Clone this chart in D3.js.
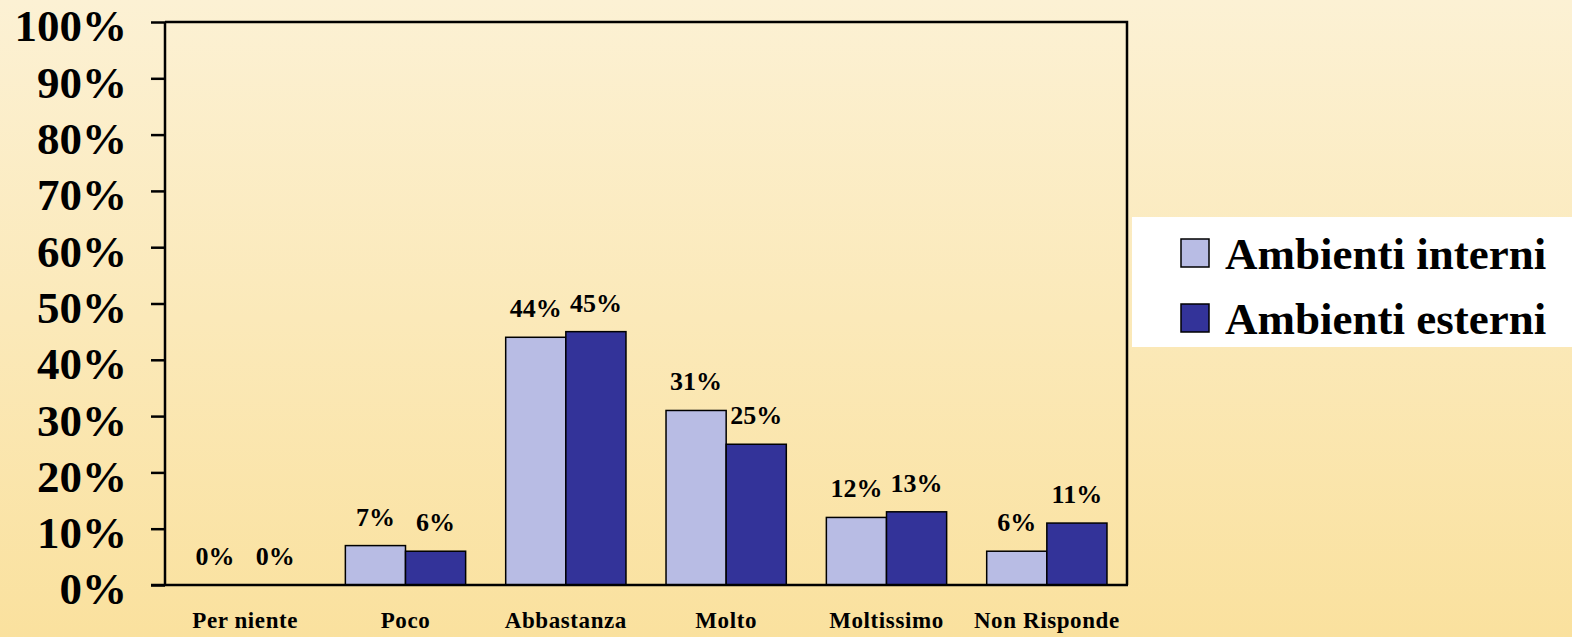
<!DOCTYPE html>
<html>
<head>
<meta charset="utf-8">
<script src="https://cdn.jsdelivr.net/npm/d3@7"></script>
<style>
body { margin: 0; padding: 0; overflow: hidden; }
svg { display: block; font-family: "Liberation Serif", "Times New Roman", serif; font-weight: bold; }
</style>
</head>
<body>
<svg id="chart" width="1572" height="637"></svg>
<script>
// data
var categories = ["Per niente", "Poco", "Abbastanza", "Molto", "Moltissimo", "Non Risponde"];
var seriesNames = ["Ambienti interni", "Ambienti esterni"];
var interni = [0, 7, 44, 31, 12, 6];
var esterni = [0, 6, 45, 25, 13, 11];
var yTicks = [0, 10, 20, 30, 40, 50, 60, 70, 80, 90, 100];
var colors = ["#B8BCE4", "#333399"];

var svg = d3.select("#chart");

// background gradient
var defs = svg.append("defs");
var grad = defs.append("linearGradient")
  .attr("id", "bg")
  .attr("x1", 0).attr("y1", 0).attr("x2", 0).attr("y2", 1);
grad.append("stop").attr("offset", "0%").attr("stop-color", "#FCF1D4");
grad.append("stop").attr("offset", "100%").attr("stop-color", "#FAE19E");
svg.append("rect").attr("width", 1572).attr("height", 637).attr("fill", "url(#bg)");

var plotL = 165, plotR = 1127, plotT = 22, plotB = 585;

var x0 = d3.scaleBand().domain(categories).range([plotL, plotR]);
var x1 = d3.scaleBand().domain(seriesNames).range([0, x0.bandwidth()]).paddingOuter(0.333);
var y = d3.scaleLinear().domain([0, 100]).range([plotB, plotT]);

var rows = categories.map(function(c, i) {
  return { cat: c, vals: [ {key: seriesNames[0], v: interni[i]}, {key: seriesNames[1], v: esterni[i]} ] };
});

// y axis
var yAxis = svg.append("g")
  .attr("transform", "translate(" + plotL + ",0)")
  .call(d3.axisLeft(y).tickValues(yTicks).tickSize(14).tickPadding(24).tickFormat(function(d) { return d + "%"; }));
yAxis.select(".domain").attr("stroke", "#000").attr("stroke-width", 2.5).attr("d", "M0," + (plotB + 1) + "V" + plotT);
yAxis.selectAll(".tick line").attr("stroke", "#000").attr("stroke-width", 2.5);
yAxis.selectAll(".tick text")
  .attr("fill", "#000")
  .attr("font-size", 45)
  .attr("font-family", "Liberation Serif, serif")
  .attr("font-weight", "bold")
  .attr("dy", "0.42em");

// frame top & right
svg.append("path")
  .attr("d", "M" + plotL + "," + plotT + "H" + plotR + "V" + plotB)
  .attr("fill", "none").attr("stroke", "#000").attr("stroke-width", 2.5);

// bars
var groups = svg.append("g").selectAll("g")
  .data(rows)
  .enter().append("g")
  .attr("transform", function(d) { return "translate(" + x0(d.cat) + ",0)"; });

groups.selectAll("rect")
  .data(function(d) { return d.vals.filter(function(e) { return e.v > 0; }); })
  .enter().append("rect")
  .attr("x", function(d) { return x1(d.key); })
  .attr("y", function(d) { return y(d.v); })
  .attr("width", x1.bandwidth())
  .attr("height", function(d) { return plotB - y(d.v); })
  .attr("fill", function(d) { return colors[seriesNames.indexOf(d.key)]; })
  .attr("stroke", "#000")
  .attr("stroke-width", 1.5);

groups.selectAll("text")
  .data(function(d) { return d.vals; })
  .enter().append("text")
  .attr("x", function(d) { return x1(d.key) + x1.bandwidth() / 2; })
  .attr("y", function(d) { return y(d.v) - 20; })
  .attr("text-anchor", "middle")
  .attr("font-size", 26)
  .attr("fill", "#000")
  .text(function(d) { return d.v + "%"; });

// x axis line
svg.append("line")
  .attr("x1", 151).attr("x2", plotR + 1)
  .attr("y1", plotB).attr("y2", plotB)
  .attr("stroke", "#000").attr("stroke-width", 2.5);

// category labels
svg.append("g").selectAll("text")
  .data(categories)
  .enter().append("text")
  .attr("x", function(d) { return x0(d) + x0.bandwidth() / 2; })
  .attr("y", 628)
  .attr("text-anchor", "middle")
  .attr("font-size", 23)
  .attr("letter-spacing", 0.6)
  .attr("fill", "#000")
  .text(function(d) { return d; });

// legend
var legend = svg.append("g");
legend.append("rect")
  .attr("x", 1132).attr("y", 217).attr("width", 440).attr("height", 130)
  .attr("fill", "#fff");
var items = legend.selectAll("g.item")
  .data(seriesNames)
  .enter().append("g")
  .attr("class", "item")
  .attr("transform", function(d, i) { return "translate(1181," + (239 + i * 65) + ")"; });
items.append("rect")
  .attr("width", 28).attr("height", 28)
  .attr("fill", function(d, i) { return colors[i]; })
  .attr("stroke", "#000").attr("stroke-width", 1.5);
items.append("text")
  .attr("x", 44).attr("y", 30)
  .attr("font-size", 45)
  .attr("fill", "#000")
  .text(function(d) { return d; });
</script>
</body>
</html>
